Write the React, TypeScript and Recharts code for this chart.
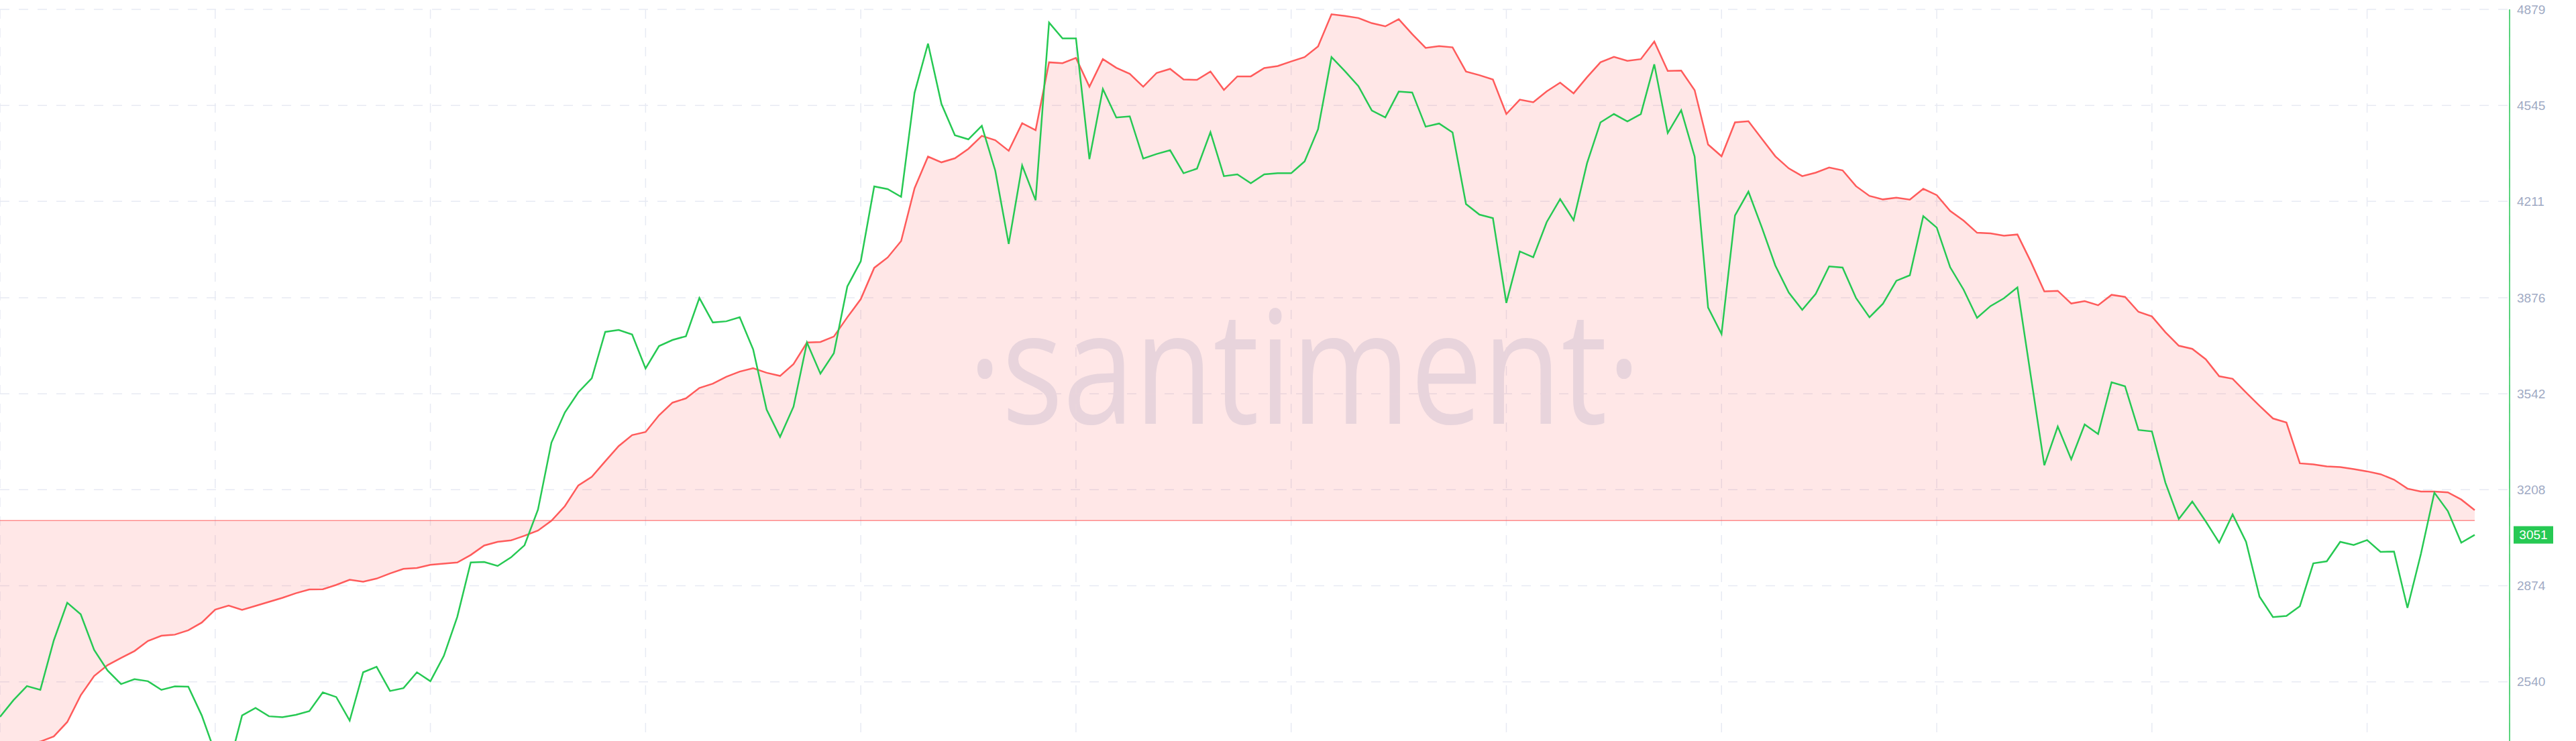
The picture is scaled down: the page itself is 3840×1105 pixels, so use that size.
import React from "react";
import {
  ComposedChart,
  Area,
  Line,
  XAxis,
  YAxis,
  CartesianGrid,
  ReferenceLine,
} from "recharts";

// price (green) and the smoothed metric (red), one value per day
const GREEN = [
  2418, 2476, 2525, 2512, 2684, 2815, 2775, 2651, 2579, 2532,
  2549, 2542, 2512, 2524, 2523, 2423, 2292, 2243, 2423, 2449,
  2420, 2417, 2425, 2438, 2503, 2487, 2405, 2573, 2592, 2508,
  2518, 2573, 2542, 2630, 2766, 2955, 2957, 2943, 2973, 3015,
  3139, 3372, 3477, 3547, 3596, 3757, 3764, 3748, 3630, 3708,
  3729, 3742, 3875, 3790, 3794, 3808, 3696, 3487, 3392, 3497,
  3720, 3612, 3683, 3915, 4003, 4263, 4254, 4227, 4589, 4760,
  4550, 4441, 4427, 4474, 4318, 4063, 4336, 4215, 4833, 4778,
  4778, 4358, 4602, 4503, 4507, 4360, 4376, 4389, 4309, 4325,
  4452, 4299, 4305, 4274, 4305, 4309, 4309, 4350, 4462, 4713,
  4664, 4612, 4527, 4503, 4593, 4590, 4471, 4482, 4451, 4202,
  4165, 4153, 3858, 4037, 4017, 4139, 4219, 4146, 4344, 4486,
  4515, 4489, 4515, 4688, 4449, 4528, 4367, 3842, 3750, 4162,
  4245, 4120, 3988, 3894, 3834, 3889, 3985, 3981, 3875, 3808,
  3855, 3935, 3954, 4160, 4120, 3982, 3904, 3806, 3847, 3874,
  3912, 3602, 3293, 3428, 3314, 3435, 3402, 3582, 3568, 3416,
  3411, 3233, 3106, 3167, 3098, 3024, 3122, 3027, 2836, 2765,
  2769, 2803, 2952, 2959, 3027, 3016, 3033, 2992, 2993, 2797,
  2985, 3198, 3134, 3024, 3051,
];

const RED = [
  2318, 2322, 2325, 2332, 2350, 2400, 2493, 2560, 2598, 2623,
  2647, 2682, 2700, 2704, 2719, 2746, 2791, 2805, 2790, 2804,
  2818, 2832, 2848, 2861, 2862, 2877, 2895, 2888, 2899, 2917,
  2933, 2936, 2947, 2951, 2955, 2981, 3014, 3027, 3032, 3048,
  3066, 3100, 3151, 3223, 3253, 3307, 3360, 3398, 3409, 3467,
  3511, 3526, 3562, 3577, 3601, 3619, 3631, 3615, 3604, 3645,
  3720, 3722, 3741, 3808, 3871, 3980, 4016, 4073, 4257, 4367,
  4347, 4361, 4394, 4439, 4424, 4387, 4483, 4459, 4695, 4692,
  4710, 4610, 4706, 4676, 4655, 4610, 4658, 4672, 4635, 4634,
  4663, 4599, 4646, 4646, 4675, 4682, 4698, 4713, 4750, 4862,
  4856, 4849, 4831, 4820, 4845, 4793, 4745, 4751, 4747, 4663,
  4650, 4635, 4515, 4565, 4556, 4594, 4624, 4587, 4643, 4695,
  4714, 4700, 4706, 4767, 4665, 4666, 4598, 4409, 4368, 4486,
  4490, 4429, 4368, 4326, 4299, 4311, 4329, 4319, 4264, 4230,
  4218, 4224, 4217, 4255, 4233, 4178, 4144, 4102, 4100, 4092,
  4096, 4001, 3898, 3900, 3856, 3864, 3850, 3886, 3879, 3827,
  3811, 3756, 3709, 3698, 3662, 3603, 3594, 3546, 3500, 3456,
  3442, 3300, 3296, 3289, 3287, 3280, 3272, 3262, 3243, 3212,
  3202, 3202, 3199, 3174, 3137,
];

const DAYS = GREEN.map((_, i) => i);
const Y_TICKS = [2540, 2874, 3208, 3542, 3876, 4211, 4545, 4879];
const Y_MIN = 2334;
const Y_MAX = 4879;
const BASE = 3101;
const X_TICKS = DAYS.filter((d) => d % 16 === 0);

const GREEN_C = "#26C953";
const RED_C = "#FF5B5B";
const GRID_C = "#E7EAF3";
const TEXT_C = "#9FAAC4";
const FONT = "'Liberation Sans', Arial, sans-serif";

const data = DAYS.map((d, i) => ({ day: d, green: GREEN[i], red: RED[i] }));
const lastGreen = GREEN[GREEN.length - 1];

const LastLabel = (props: any) => {
  const vb = props.viewBox || {};
  const x = vb.x + vb.width + 6;
  const y = vb.y;
  return (
    <g>
      <rect x={x} y={y - 13} width={59} height={26} fill={GREEN_C} />
      <text
        x={x + 29.5}
        y={y}
        dy="0.36em"
        textAnchor="middle"
        fill="#fff"
        fontSize={19}
        fontFamily={FONT}
      >
        {lastGreen}
      </text>
    </g>
  );
};

export default function App() {
  return (
    <div style={{ position: "absolute", left: 0, top: 0, width: 3840, height: 1105, background: "#fff" }}>
      <svg
        width={3840}
        height={1105}
        style={{ position: "absolute", left: 0, top: 0 }}
      >
        <text
          x={1443}
          y={632}
          fontFamily="'Open Sans', sans-serif"
          fontSize={235}
          fill="#E4E9F2"
          textLength={1003}
          lengthAdjust="spacingAndGlyphs"
        >
          ·santiment·
        </text>
      </svg>
      <div style={{ position: "absolute", left: 0, top: 0 }}>
        <ComposedChart
          width={3840}
          height={1105}
          data={data}
          margin={{ top: 14, right: 0, bottom: 0, left: 0 }}
        >
          <CartesianGrid
            stroke={GRID_C}
            strokeWidth={1.5}
            strokeDasharray="14 14"
            horizontalValues={Y_TICKS}
          />
          <XAxis
            dataKey="day"
            type="number"
            domain={[0, DAYS.length - 1]}
            ticks={X_TICKS}
            padding={{ left: 0, right: 52 }}
            hide
          />
          <YAxis
            orientation="right"
            width={99}
            domain={[Y_MIN, Y_MAX]}
            ticks={Y_TICKS}
            allowDataOverflow
            interval={0}
            tickLine={false}
            tickSize={0}
            tickMargin={11}
            axisLine={{ stroke: GREEN_C, strokeWidth: 1.5 }}
            tick={{ fill: TEXT_C, fontSize: 19, fontFamily: FONT, textAnchor: "start" }}
          />
          <Area
            type="linear"
            dataKey="red"
            baseValue={BASE}
            stroke={RED_C}
            strokeWidth={2.5}
            fill={RED_C}
            fillOpacity={0.15}
            dot={false}
            activeDot={false}
            isAnimationActive={false}
          />
          <ReferenceLine
            segment={[
              { x: DAYS[0], y: BASE },
              { x: DAYS[DAYS.length - 1], y: BASE },
            ]}
            stroke={RED_C}
            strokeWidth={1}
          />
          <Line
            type="linear"
            dataKey="green"
            stroke={GREEN_C}
            strokeWidth={2.5}
            dot={false}
            activeDot={false}
            isAnimationActive={false}
          />
          <ReferenceLine y={lastGreen} stroke="none" label={LastLabel} />
        </ComposedChart>
      </div>
    </div>
  );
}
